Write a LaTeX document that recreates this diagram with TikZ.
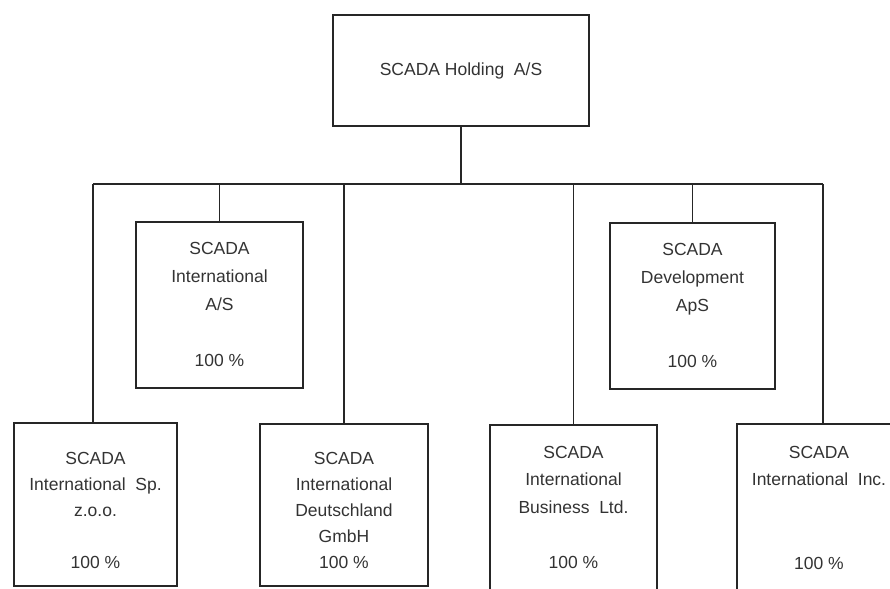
\documentclass[tikz,border=0pt]{standalone}
\usepackage{fontspec}
\setmainfont{Liberation Sans}
\begin{document}
\begin{tikzpicture}[x=1pt,y=-1pt,
  box/.style={draw=black!85, line width=1.6pt, inner sep=0pt, fill=white},
  txt/.style={align=center, font=\fontsize{17.5}{27}\selectfont, text=black!80, inner sep=0pt},
  conn/.style={line width=1.5pt, draw=black!85}]
\clip (0,0) rectangle (890,588);
\fill[white] (0,0) rectangle (890,588);
% boxes
\node[box, minimum width=256, minimum height=111, txt, text=black!80] (hold) at (461,70.5) {SCADA Holding\ \ A/S};
\node[box, minimum width=167, minimum height=166] (intA) at (219.5,305) {};
\node[box, minimum width=165, minimum height=166] (dev) at (692.5,306) {};
\node[box, minimum width=163, minimum height=163] (sp) at (95.5,504.5) {};
\node[box, minimum width=168, minimum height=162] (deu) at (344,505) {};
\node[box, minimum width=167, minimum height=175] (bus) at (573.5,512.5) {};
\node[box, minimum width=168, minimum height=176] (inc) at (821,512) {};
% texts
\node[txt, font=\fontsize{17.5}{28}\selectfont] (tintA) at (219.5,304) {SCADA\\International\\A/S\\[28pt]100 \%};
\node[txt, font=\fontsize{17.5}{28}\selectfont] (tdev) at (692.5,305) {SCADA\\Development\\ApS\\[28pt]100 \%};
\node[txt, font=\fontsize{17.5}{26}\selectfont] (tsp) at (95.5,510) {SCADA\\International\ \ Sp.\\z.o.o.\\[26pt]100 \%};
\node[txt, font=\fontsize{17.5}{26}\selectfont] (tdeu) at (344,510) {SCADA\\International\\Deutschland\\GmbH\\100 \%};
\node[txt, font=\fontsize{17.5}{27.5}\selectfont] (tbus) at (573.5,507) {SCADA\\International\\Business\ \ Ltd.\\[27.5pt]100 \%};
\node[txt, font=\fontsize{17.5}{27.75}\selectfont] (tinc) at (819,507.5) {SCADA\\International\ \ Inc.\\[55.5pt]100 \%};
% connectors
\coordinate (busL) at (93,184);
\coordinate (busR) at (823,184);
\draw[conn] (hold.south) -- (hold.south |- busL);
\draw[conn] (busL) -- (busR);
\draw[conn] (busL) -- (busL |- sp.north);
\draw[conn] (intA.north |- busL) -- (intA.north);
\draw[conn] (deu.north |- busL) -- (deu.north);
\draw[conn] (bus.north |- busL) -- (bus.north);
\draw[conn] (dev.north |- busL) -- (dev.north);
\draw[conn] (busR) -- (busR |- inc.north);
\end{tikzpicture}
\end{document}
